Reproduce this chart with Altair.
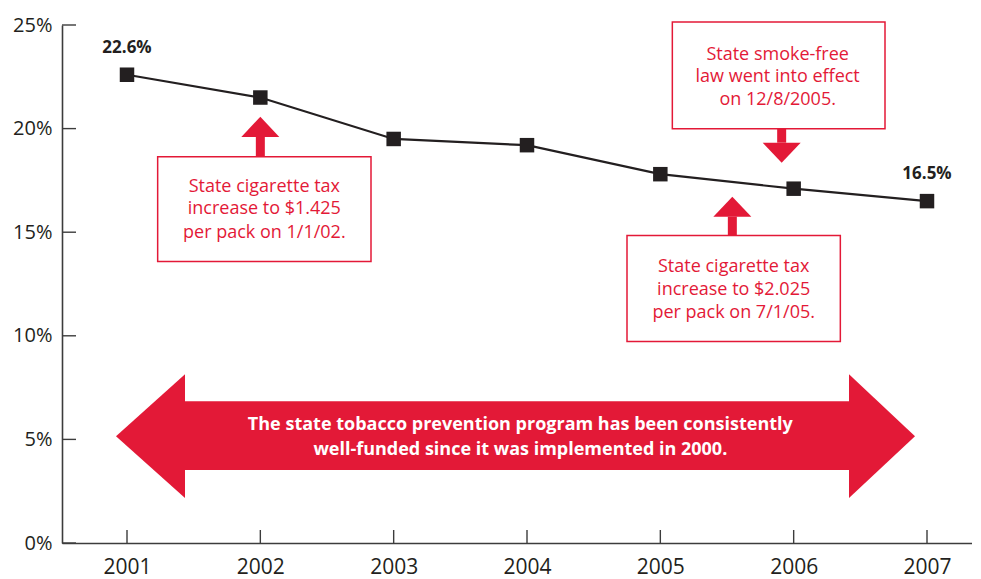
import altair as alt
import pandas as pd

# ---- main series ----
years = [2001, 2002, 2003, 2004, 2005, 2006, 2007]
rates = [22.6, 21.5, 19.5, 19.2, 17.8, 17.1, 16.5]
y_ticks = [0, 5, 10, 15, 20, 25]

# ---- end labels ----
end_labels = ["22.6%", "16.5%"]
end_years = [2001, 2007]
end_label_y = [23.9, 17.8]

# ---- annotation boxes (data units: year / percent) ----
box_ids = ["tax2002", "smokefree", "tax2005"]
box_x = [2001.23, 2005.09, 2004.75]
box_x2 = [2002.83, 2006.685, 2006.35]
box_y = [13.58, 19.99, 9.73]
box_y2 = [18.64, 25.14, 14.84]
box_lines = [
    ["State cigarette tax", "increase to $1.425", "per pack on 1/1/02."],
    ["State smoke-free", "law went into effect", "on 12/8/2005."],
    ["State cigarette tax", "increase to $2.025", "per pack on 7/1/05."],
]
box_text_x = [2002.03, 2005.88, 2005.55]
box_line_y = [[17.2, 16.13, 14.98], [23.55, 22.5, 21.4], [13.3, 12.22, 11.12]]

# ---- small arrows ----
arrow_x = [2002.0, 2005.91, 2005.54]
arrow_shaft_from = [18.64, 19.99, 14.84]
arrow_head_base = [19.60, 19.32, 15.75]
arrow_tip = [20.57, 18.35, 16.71]
arrow_head_half = 0.1425

# ---- big double arrow ----
big_tip_x = [2000.9175, 2006.91]
big_base_x = [2001.435, 2006.415]
big_tip_y = 5.154
big_head_top = 8.14
big_head_bottom = 2.17
big_shaft_top = 6.84
big_shaft_bottom = 3.52
big_lines = ["The state tobacco prevention program has been consistently",
             "well-funded since it was implemented in 2000."]
big_line_y = [5.68, 4.48]
big_text_x = 2003.95

RED = "#E31937"
DARK = "#231F20"
AXIS = "#3C3C3C"
FONT = "Open Sans"

W, H = 910, 518
xscale = alt.Scale(domain=[2000.5125, 2007.3375], nice=False, zero=False)
yscale = alt.Scale(domain=[0, 25], nice=False)

series = pd.DataFrame({"year": years, "rate": rates})

line = alt.Chart(series).mark_line(color=DARK, strokeWidth=2.2, interpolate="linear").encode(
    x=alt.X("year:Q", scale=xscale,
            axis=alt.Axis(values=years, format="d", ticks=False, grid=False, title=None,
                          domainColor=AXIS, domainWidth=1.6, labelFont=FONT, labelFontSize=21,
                          labelColor=DARK, labelPadding=13, labelFlush=False)),
    y=alt.Y("rate:Q", scale=yscale,
            axis=alt.Axis(values=y_ticks, labelExpr="datum.value + '%'", ticks=False, grid=False,
                          title=None, domainColor=AXIS, domainWidth=1.6, labelFont=FONT,
                          labelFontSize=20, labelColor=DARK, labelPadding=10, labelFlush=False)),
)
points = alt.Chart(series).mark_point(shape="square", filled=True, opacity=1, size=210, color=DARK).encode(
    x=alt.X("year:Q", scale=xscale), y=alt.Y("rate:Q", scale=yscale))

xt = pd.DataFrame({"year": years})
xticks = alt.Chart(xt).mark_rule(color=AXIS, strokeWidth=1.4).encode(
    x=alt.X("year:Q", scale=xscale), y=alt.value(H), y2=alt.value(H - 13))
yt = pd.DataFrame({"v": y_ticks})
yticks = alt.Chart(yt).mark_rule(color=AXIS, strokeWidth=1.4).encode(
    y=alt.Y("v:Q", scale=yscale), x=alt.value(0), x2=alt.value(14))

ends = pd.DataFrame({"year": end_years, "y": end_label_y, "t": end_labels})
end_text = alt.Chart(ends).mark_text(font=FONT, fontSize=17, fontWeight="bold", color=DARK).encode(
    x=alt.X("year:Q", scale=xscale), y=alt.Y("y:Q", scale=yscale), text="t:N")

boxes = pd.DataFrame({"id": box_ids, "x": box_x, "x2": box_x2, "y": box_y, "y2": box_y2})
box_rects = alt.Chart(boxes).mark_rect(fill="white", stroke=RED, strokeWidth=1.5).encode(
    x=alt.X("x:Q", scale=xscale), x2="x2:Q", y=alt.Y("y:Q", scale=yscale), y2="y2:Q")

rows = []
for i, lines in enumerate(box_lines):
    for j, t in enumerate(lines):
        rows.append({"x": box_text_x[i], "y": box_line_y[i][j], "t": t})
box_txt = alt.Chart(pd.DataFrame(rows)).mark_text(font=FONT, fontSize=18, color=RED, baseline="middle").encode(
    x=alt.X("x:Q", scale=xscale), y=alt.Y("y:Q", scale=yscale), text="t:N")

shafts = pd.DataFrame({"x": arrow_x, "y": arrow_shaft_from, "y2": arrow_head_base})
shaft_rules = alt.Chart(shafts).mark_rule(color=RED, strokeWidth=9).encode(
    x=alt.X("x:Q", scale=xscale), y=alt.Y("y:Q", scale=yscale), y2="y2:Q")

head_rows = []
for i in range(len(arrow_x)):
    head_rows.append({"id": i, "y": arrow_head_base[i], "xa": arrow_x[i] - arrow_head_half, "xb": arrow_x[i] + arrow_head_half})
    head_rows.append({"id": i, "y": arrow_tip[i], "xa": arrow_x[i], "xb": arrow_x[i]})
heads = alt.Chart(pd.DataFrame(head_rows)).mark_area(color=RED, orient="horizontal", opacity=1).encode(
    y=alt.Y("y:Q", scale=yscale), x=alt.X("xa:Q", scale=xscale), x2="xb:Q", detail="id:N")

big_head_rows = []
for i in range(2):
    big_head_rows.append({"id": i, "x": big_tip_x[i], "ya": big_tip_y, "yb": big_tip_y})
    big_head_rows.append({"id": i, "x": big_base_x[i], "ya": big_head_top, "yb": big_head_bottom})
big_heads = alt.Chart(pd.DataFrame(big_head_rows)).mark_area(color=RED, orient="vertical", opacity=1).encode(
    x=alt.X("x:Q", scale=xscale), y=alt.Y("ya:Q", scale=yscale), y2="yb:Q", detail="id:N")

big_shaft = alt.Chart(pd.DataFrame({"x": [big_base_x[0] - 0.005], "x2": [big_base_x[1] + 0.005],
                                    "y": [big_shaft_bottom], "y2": [big_shaft_top]})).mark_rect(color=RED).encode(
    x=alt.X("x:Q", scale=xscale), x2="x2:Q", y=alt.Y("y:Q", scale=yscale), y2="y2:Q")

big_txt = alt.Chart(pd.DataFrame({"x": [big_text_x] * 2, "y": big_line_y, "t": big_lines})).mark_text(
    font=FONT, fontSize=18, fontWeight="bold", color="white", baseline="middle").encode(
    x=alt.X("x:Q", scale=xscale), y=alt.Y("y:Q", scale=yscale), text="t:N")

chart = alt.layer(
    big_shaft, big_heads, big_txt,
    line, points, xticks, yticks, end_text,
    shaft_rules, heads, box_rects, box_txt,
).properties(
    width=W, height=H,
    autosize=alt.AutoSizeParams(type="none"),
    padding={"left": 54, "top": 17, "right": 0, "bottom": 40},
    background="white",
).configure_view(stroke=None)

chart.save("out.html", embed_options={"renderer": "svg", "actions": False})
